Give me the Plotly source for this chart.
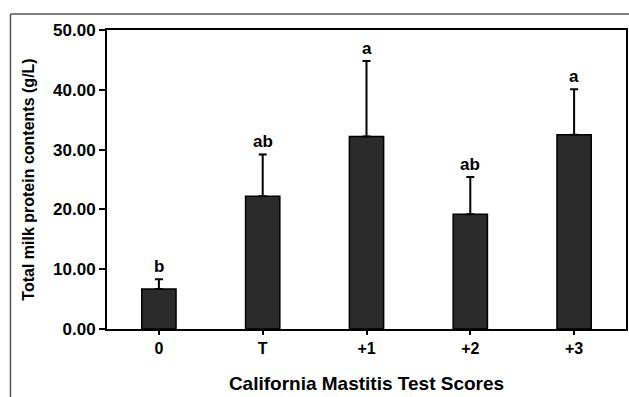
import plotly.graph_objects as go

categories = ["0", "T", "+1", "+2", "+3"]
means = [6.7, 22.2, 32.2, 19.2, 32.5]
errors = [1.6, 7.0, 12.6, 6.2, 7.6]
letters = ["b", "ab", "a", "ab", "a"]
y_ticks = [0, 10, 20, 30, 40, 50]
y_tick_labels = ["0.00", "10.00", "20.00", "30.00", "40.00", "50.00"]

FONT = "Liberation Sans, Arial, sans-serif"

fig = go.Figure()
fig.add_trace(go.Bar(
    x=categories, y=means, width=0.33,
    marker=dict(color="#2b2b2b", line=dict(color="black", width=1.5)),
    error_y=dict(type="data", array=errors, arrayminus=[0]*len(errors),
                 symmetric=False, color="black", thickness=2, width=4),
))

for i, (m, e, l) in enumerate(zip(means, errors, letters)):
    fig.add_annotation(x=i, y=m + e, text="<b>%s</b>" % l, showarrow=False,
                       yanchor="middle", yshift=13,
                       font=dict(family=FONT, size=17, color="black"))

# outer page frame
fig.add_shape(type="line", xref="paper", yref="paper", x0=-0.186, x1=1.01,
              y0=1.0535, y1=1.0535, line=dict(color="#555555", width=1.5))
fig.add_shape(type="line", xref="paper", yref="paper", x0=-0.186, x1=-0.186,
              y0=1.0535, y1=-0.25, line=dict(color="#555555", width=1.5))

fig.update_layout(
    width=629, height=397,
    margin=dict(l=107, r=1, t=30, b=68),
    paper_bgcolor="white", plot_bgcolor="white",
    showlegend=False,
    font=dict(family=FONT, color="black"),
    xaxis=dict(
        range=[-0.5, 4.5], showline=True, linecolor="black", linewidth=2,
        mirror=True, ticks="outside", ticklen=4, tickwidth=2, tickcolor="black",
        tickfont=dict(family=FONT, size=16, color="black"),
        title=dict(text="<b>California Mastitis Test Scores</b>",
                   font=dict(family=FONT, size=19, color="black"), standoff=20),
        tickprefix="<b>", ticksuffix="</b>",
    ),
    yaxis=dict(
        range=[0, 50], tickvals=y_ticks, ticktext=["<b>%s</b>" % t for t in y_tick_labels],
        showline=True, linecolor="black", linewidth=2, mirror=True,
        ticks="outside", ticklen=6, tickwidth=2, tickcolor="black",
        showgrid=False, zeroline=False,
        tickfont=dict(family=FONT, size=17, color="black"),
        title=dict(text="<b>Total milk protein contents (g/L)</b>",
                   font=dict(family=FONT, size=16, color="black"), standoff=14),
    ),
)

fig.write_html("out.html", config={"displayModeBar": False},
               post_script="document.body.style.margin='0';")
